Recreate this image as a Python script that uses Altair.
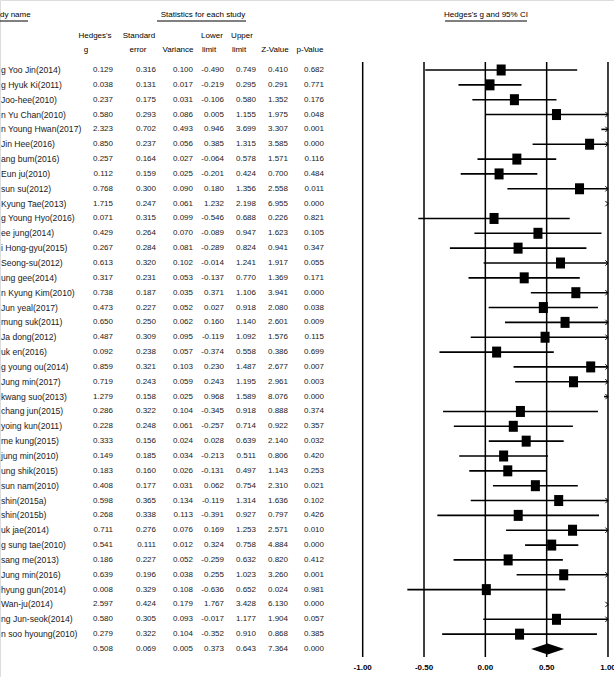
import altair as alt
import pandas as pd

NB = "\u00a0"
names = [
    "g Yoo Jin(2014)", "g Hyuk Ki(2011)", NB + "Joo-hee(2010)", "n Yu Chan(2010)",
    "n Young Hwan(2017)", NB + NB + "Jin Hee(2016)", "ang bum(2016)", NB + "Eun ju(2010)",
    NB + "sun su(2012)", NB + "Kyung Tae(2013)", "g Young Hyo(2016)", "ee jung(2014)",
    "i Hong-gyu(2015)", NB + "Seong-su(2012)", NB + "ung gee(2014)", "n Kyung Kim(2010)",
    NB + "Jun yeal(2017)", NB + "mung suk(2011)", NB + "Ja dong(2012)", "uk en(2016)",
    "g young ou(2014)", NB + "Jung min(2017)", NB + "kwang suo(2013)", NB + "chang jun(2015)",
    "yoing kun(2011)", "me kung(2015)", NB + "jung min(2010)", NB + "ung shik(2015)",
    "sun nam(2010)", NB + "shin(2015a)", NB + "shin(2015b)", "uk jae(2014)",
    "g sung tae(2010)", NB + "sang me(2013)", NB + "Jung min(2016)", NB + "hyung gun(2014)",
    NB + "Wan-ju(2014)", "ng Jun-seok(2014)", "n soo hyoung(2010)",
]
hedges_g = [0.129, 0.038, 0.237, 0.580, 2.323, 0.850, 0.257, 0.112, 0.768, 1.715,
            0.071, 0.429, 0.267, 0.613, 0.317, 0.738, 0.473, 0.650, 0.487, 0.092,
            0.859, 0.719, 1.279, 0.286, 0.228, 0.333, 0.149, 0.183, 0.408, 0.598,
            0.268, 0.711, 0.541, 0.186, 0.639, 0.008, 2.597, 0.580, 0.279]
std_err = [0.316, 0.131, 0.175, 0.293, 0.702, 0.237, 0.164, 0.159, 0.300, 0.247,
           0.315, 0.264, 0.284, 0.320, 0.231, 0.187, 0.227, 0.250, 0.309, 0.238,
           0.321, 0.243, 0.158, 0.322, 0.248, 0.156, 0.185, 0.160, 0.177, 0.365,
           0.338, 0.276, 0.111, 0.227, 0.196, 0.329, 0.424, 0.305, 0.322]
variance = [0.100, 0.017, 0.031, 0.086, 0.493, 0.056, 0.027, 0.025, 0.090, 0.061,
            0.099, 0.070, 0.081, 0.102, 0.053, 0.035, 0.052, 0.062, 0.095, 0.057,
            0.103, 0.059, 0.025, 0.104, 0.061, 0.024, 0.034, 0.026, 0.031, 0.134,
            0.113, 0.076, 0.012, 0.052, 0.038, 0.108, 0.179, 0.093, 0.104]
lower = [-0.490, -0.219, -0.106, 0.005, 0.946, 0.385, -0.064, -0.201, 0.180, 1.232,
         -0.546, -0.089, -0.289, -0.014, -0.137, 0.371, 0.027, 0.160, -0.119, -0.374,
         0.230, 0.243, 0.968, -0.345, -0.257, 0.028, -0.213, -0.131, 0.062, -0.119,
         -0.391, 0.169, 0.324, -0.259, 0.255, -0.636, 1.767, -0.017, -0.352]
upper = [0.749, 0.295, 0.580, 1.155, 3.699, 1.315, 0.578, 0.424, 1.356, 2.198,
         0.688, 0.947, 0.824, 1.241, 0.770, 1.106, 0.918, 1.140, 1.092, 0.558,
         1.487, 1.195, 1.589, 0.918, 0.714, 0.639, 0.511, 0.497, 0.754, 1.314,
         0.927, 1.253, 0.758, 0.632, 1.023, 0.652, 3.428, 1.177, 0.910]
z_value = [0.410, 0.291, 1.352, 1.975, 3.307, 3.585, 1.571, 0.700, 2.558, 6.955,
           0.226, 1.623, 0.941, 1.917, 1.369, 3.941, 2.080, 2.601, 1.576, 0.386,
           2.677, 2.961, 8.076, 0.888, 0.922, 2.140, 0.806, 1.143, 2.310, 1.636,
           0.797, 2.571, 4.884, 0.820, 3.260, 0.024, 6.130, 1.904, 0.868]
p_value = [0.682, 0.771, 0.176, 0.048, 0.001, 0.000, 0.116, 0.484, 0.011, 0.000,
           0.821, 0.105, 0.347, 0.055, 0.171, 0.000, 0.038, 0.009, 0.115, 0.699,
           0.007, 0.003, 0.000, 0.374, 0.357, 0.032, 0.420, 0.253, 0.021, 0.102,
           0.426, 0.010, 0.000, 0.412, 0.001, 0.981, 0.000, 0.057, 0.385]
summary = {"g": 0.508, "se": 0.069, "var": 0.005, "lo": 0.373, "hi": 0.643,
           "z": 7.364, "p": 0.000}
tick_values = [-1.0, -0.5, 0.0, 0.5, 1.0]
tick_labels = ["-1.00", "-0.50", "0.00", "0.50", "1.00"]

FONT = "Liberation Sans, Arial, sans-serif"
FS = 8
FS_NAME = 8.6
TXT = "#1a1a1a"

n = len(names)
rows = list(range(n + 1))

table = pd.DataFrame({
    "row": rows,
    "name": names + [""],
    "g": [f"{v:.3f}" for v in hedges_g + [summary["g"]]],
    "se": [f"{v:.3f}" for v in std_err + [summary["se"]]],
    "var": [f"{v:.3f}" for v in variance + [summary["var"]]],
    "lo": [f"{v:.3f}" for v in lower + [summary["lo"]]],
    "hi": [f"{v:.3f}" for v in upper + [summary["hi"]]],
    "z": [f"{v:.3f}" for v in z_value + [summary["z"]]],
    "p": [f"{v:.3f}" for v in p_value + [summary["p"]]],
})

XMAX = 1.0
forest = pd.DataFrame({
    "row": list(range(n)),
    "g": hedges_g,
    "lo": lower,
    "hi": upper,
})
forest["lo_c"] = forest["lo"].clip(upper=XMAX)
forest["hi_c"] = forest["hi"].clip(upper=XMAX)
whisk = forest[forest["lo"] < XMAX]
squares = forest[forest["g"] <= XMAX]
arrows = forest[forest["hi"] > XMAX].assign(ax=XMAX)

half = 0.37
diamond = pd.DataFrame({
    "x": [summary["lo"], summary["g"], summary["hi"]],
    "y": [n, n - half, n],
    "y2": [n, n + half, n],
})

ticks = pd.DataFrame({"v": tick_values, "lab": tick_labels})

xscale = alt.Scale(domain=[-3.957, 1.049], nice=False, zero=False)
yscale = alt.Scale(domain=[-4.715, 40.886], nice=False, zero=False, reverse=True)
Y = alt.Y("row:Q", scale=yscale, axis=None)

layers = []

layers.append(alt.Chart(table).mark_text(align="left", baseline="middle", font=FONT,
                                         fontSize=FS_NAME, color=TXT).encode(
    x=alt.value(1), y=Y, text="name:N"))

col_right = {"g": 113, "se": 156, "var": 193, "lo": 224, "hi": 256, "z": 288, "p": 324}
for col, px in col_right.items():
    layers.append(alt.Chart(table).mark_text(align="right", baseline="middle", font=FONT,
                                             fontSize=FS, color=TXT).encode(
        x=alt.value(px), y=Y, text=f"{col}:N"))


def label(txt, x, y, align="center", bold=False):
    return alt.Chart(pd.DataFrame({"t": [txt]})).mark_text(
        align=align, baseline="middle", font=FONT, fontSize=FS,
        fontWeight="bold" if bold else "normal", color="black").encode(
        x=alt.value(x), y=alt.value(y), text="t:N")


heads = [
    ("dy name", 0, 15, "left"),
    ("Statistics for each study", 203, 15, "center"),
    ("Hedges's g and 95%  CI", 486, 15, "center"),
    ("Hedges's", 95, 36, "center"), ("g", 86, 50, "center"),
    ("Standard", 139, 36, "center"), ("error", 138, 50, "center"),
    ("Variance", 178, 50, "center"),
    ("Lower", 212, 36, "center"), ("limit", 209, 50, "center"),
    ("Upper", 242, 36, "center"), ("limit", 239, 50, "center"),
    ("Z-Value", 275, 50, "center"), ("p-Value", 310, 50, "center"),
]
for t, x, y, a in heads:
    layers.append(label(t, x, y, a))

for x1, x2 in [(0, 28), (157, 246), (445, 527)]:
    layers.append(alt.Chart(pd.DataFrame({"a": [0]})).mark_rule(color="black", strokeWidth=1).encode(
        x=alt.value(x1), x2=alt.value(x2), y=alt.value(21)))

layers.append(alt.Chart(ticks).mark_rule(color="black", strokeWidth=1.5).encode(
    x=alt.X("v:Q", scale=xscale, axis=None), y=alt.value(62), y2=alt.value(657)))

layers.append(alt.Chart(ticks).mark_text(baseline="middle", align="center", font=FONT,
                                         fontSize=FS, fontWeight="bold", color="black").encode(
    x=alt.X("v:Q", scale=xscale, axis=None), y=alt.value(668), text="lab:N"))

layers.append(alt.Chart(whisk).mark_rule(color="black", strokeWidth=1.6).encode(
    x=alt.X("lo_c:Q", scale=xscale, axis=None), x2="hi_c:Q", y=Y))

sq_path = "M-0.82,-1L0.82,-1L0.82,1L-0.82,1Z"
layers.append(alt.Chart(squares).mark_point(shape=sq_path, filled=True, color="black",
                                            size=121, opacity=1).encode(
    x=alt.X("g:Q", scale=xscale, axis=None), y=Y))

layers.append(alt.Chart(arrows).mark_point(shape="M-1,-1L0,0L-1,1", filled=False,
                                           color="black", size=28, strokeWidth=1,
                                           opacity=1).encode(
    x=alt.X("ax:Q", scale=xscale, axis=None), y=Y))

layers.append(alt.Chart(diamond).mark_area(color="black", opacity=1).encode(
    x=alt.X("x:Q", scale=xscale, axis=None),
    y=alt.Y("y:Q", scale=yscale, axis=None), y2="y2:Q"))

chart = alt.layer(*layers).properties(
    width=614, height=677, padding=0,
    autosize=alt.AutoSizeParams(type="none"),
).configure_view(stroke=None).configure(background="white")

chart.save("out.html", embed_options={"renderer": "svg", "actions": False})
